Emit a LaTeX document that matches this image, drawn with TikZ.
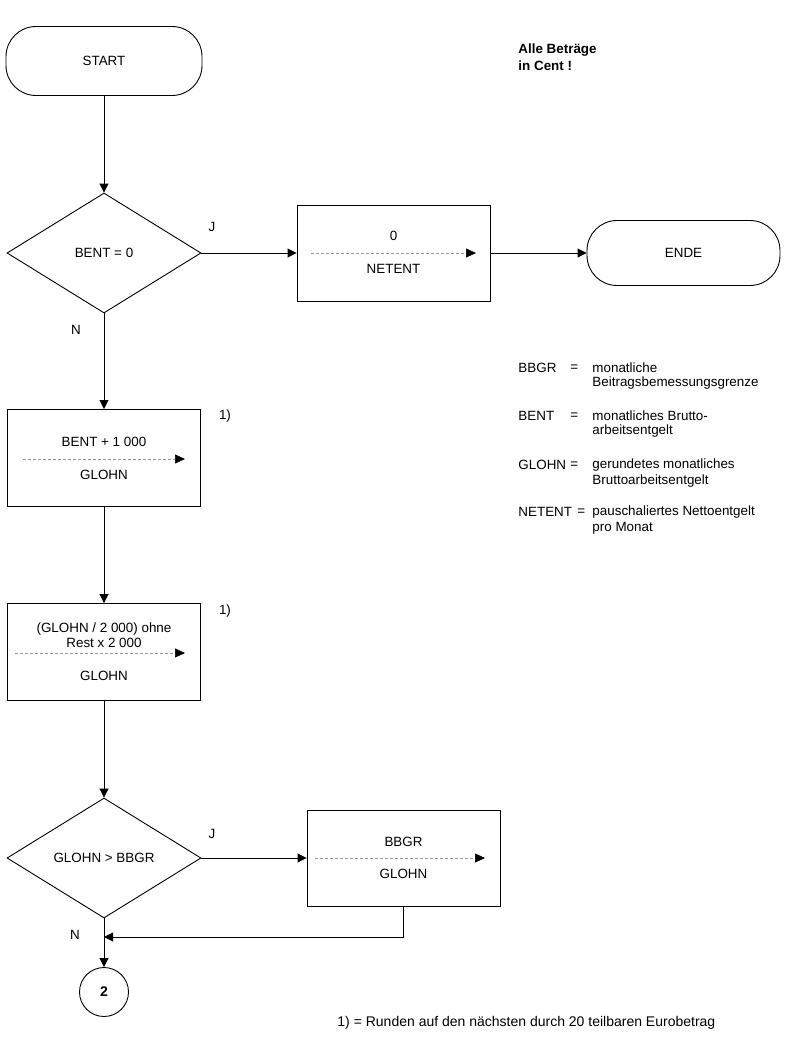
\documentclass[tikz,border=0pt]{standalone}
\usepackage{fontspec}
\setmainfont{Liberation Sans}
\usetikzlibrary{arrows.meta,shapes.geometric}
\begin{document}
\begin{tikzpicture}[x=1pt,y=-1pt,
  line width=0.9pt,
  >={Triangle[length=9pt,width=9pt]},
  term/.style={draw, rounded corners=30pt, minimum width=196pt, minimum height=69pt, inner sep=0pt},
  proc/.style={draw, minimum width=193pt, minimum height=97pt, inner sep=0pt},
  dec/.style={draw, diamond, minimum width=194pt, minimum height=120pt, inner sep=0pt},
  conn/.style={draw, circle, minimum size=49pt, inner sep=0pt},
  txt/.style={font=\fontsize{13.4}{15}\selectfont, inner sep=0pt},
  btxt/.style={font=\fontsize{13.4}{16}\selectfont\bfseries, inner sep=0pt, align=left},
  dasharr/.style={draw=gray!80, dash pattern=on 3pt off 2pt, line width=0.6pt, -{Triangle[length=10pt,width=9pt,color=black]}}
]
\useasboundingbox (0,0) rectangle (785,1047);

% left column
\node[term] (start) at (104,61) {};
\node[txt] (tstart) at (104,61) {START};

\node[dec] (d1) at (104,253) {};
\node[txt] (td1) at (104,253) {BENT = 0};

\node[proc] (b1) at (104,458) {};
\node[txt] (tb1a) at (104,442) {BENT + 1 000};
\node[txt] (tb1b) at (104,475) {GLOHN};
\coordinate (b1s) at (23,459);
\coordinate (b1e) at (185,459);
\draw[dasharr] (b1s) -- (b1e);

\node[proc] (b2) at (104,652) {};
\node[txt] (tb2a) at (104,629) {(GLOHN / 2 000) ohne};
\node[txt] (tb2b) at (104,643) {Rest x 2 000};
\node[txt] (tb2c) at (104,676) {GLOHN};
\coordinate (b2s) at (15,653);
\coordinate (b2e) at (185,653);
\draw[dasharr] (b2s) -- (b2e);

\node[dec] (d2) at (104,858) {};
\node[txt] (td2) at (104,858) {GLOHN > BBGR};

\node[conn] (c2) at (104,992) {};
\node[txt, font=\fontsize{14}{16}\selectfont\bfseries] (tc2) at (104,992) {2};

% right of first decision
\node[proc, minimum height=96pt] (b3) at (393.5,253) {};
\node[txt] (tb3a) at (393.5,236) {0};
\node[txt] (tb3b) at (393.5,269) {NETENT};
\coordinate (b3s) at (311,253);
\coordinate (b3e) at (476,253);
\draw[dasharr] (b3s) -- (b3e);

\node[term, minimum width=193pt, minimum height=65pt] (ende) at (683.5,253) {};
\node[txt] (tende) at (683.5,253) {ENDE};

% right of second decision
\node[proc, minimum height=96pt] (b4) at (403.5,858) {};
\node[txt] (tb4a) at (403.5,842) {BBGR};
\node[txt] (tb4b) at (403.5,874) {GLOHN};
\coordinate (b4s) at (315,858);
\coordinate (b4e) at (485,858);
\draw[dasharr] (b4s) -- (b4e);

% connectors
\draw[->] (start.south) -- (d1.north);
\draw[->] (d1.east) -- (b3.west);
\draw[->] (b3.east) -- (ende.west);
\draw[->] (d1.south) -- (b1.north);
\draw[->] (b1.south) -- (b2.north);
\draw[->] (b2.south) -- (d2.north);
\draw[->] (d2.east) -- (b4.west);
\coordinate (m) at (104,937);
\draw[->] (b4.south) |- (m);
\draw[->] (d2.south) -- (c2.north);

% labels
\node[txt] (j1) at (212,227) {J};
\node[txt] (n1) at (76,330) {N};
\node[txt] (j2) at (212,834) {J};
\node[txt] (n2) at (75,935) {N};
\node[txt] (f1) at (225,416) {1)};
\node[txt] (f2) at (225,611) {1)};

% note
\node[btxt, anchor=west] (note1) at (518,50) {Alle Betr\"age};
\node[btxt, anchor=west] (note2) at (518,66) {in Cent !};

% legend
\node[txt, anchor=west] (l1k) at (518,368) {BBGR};
\node[txt, anchor=west] (l1e) at (570,368) {=};
\node[txt, anchor=west] (l1a) at (592,368) {monatliche};
\node[txt, anchor=west] (l1b) at (592,383) {Beitragsbemessungsgrenze};

\node[txt, anchor=west] (l2k) at (518,416) {BENT};
\node[txt, anchor=west] (l2e) at (570,416) {=};
\node[txt, anchor=west] (l2a) at (592,416) {monatliches Brutto-};
\node[txt, anchor=west] (l2b) at (592,431) {arbeitsentgelt};

\node[txt, anchor=west] (l3k) at (518,465) {GLOHN};
\node[txt, anchor=west] (l3e) at (570,465) {=};
\node[txt, anchor=west] (l3a) at (592,465) {gerundetes monatliches};
\node[txt, anchor=west] (l3b) at (592,481) {Bruttoarbeitsentgelt};

\node[txt, anchor=west] (l4k) at (518,512) {NETENT};
\node[txt, anchor=west] (l4e) at (577,512) {=};
\node[txt, anchor=west] (l4a) at (592,512) {pauschaliertes Nettoentgelt};
\node[txt, anchor=west] (l4b) at (592,528) {pro Monat};

% footnote
\node[txt, font=\fontsize{14}{16}\selectfont, anchor=west] (foot) at (337,1023) {1) = Runden auf den n\"achsten durch 20 teilbaren Eurobetrag};
\end{tikzpicture}
\end{document}
